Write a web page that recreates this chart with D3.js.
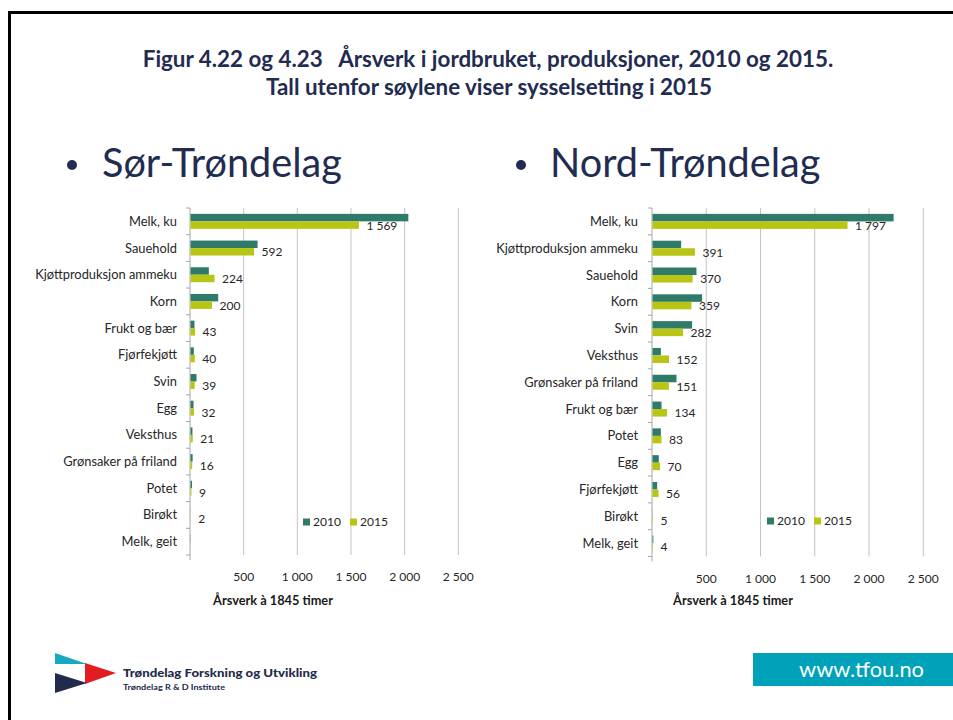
<!DOCTYPE html>
<html>
<head>
<meta charset="utf-8">
<script src="https://cdn.jsdelivr.net/npm/d3@7"></script>
<style>
html,body{margin:0;padding:0;background:#fff;}
svg{display:block;}
</style>
</head>
<body>
<svg id="chart" width="953" height="720"></svg>
<script>
// ---------- DATA ----------
const titleLines = ["Figur 4.22 og 4.23   Årsverk i jordbruket, produksjoner, 2010 og 2015.",
                    "Tall utenfor søylene viser sysselsetting i 2015"];
const headings = ["Sør-Trøndelag", "Nord-Trøndelag"];
const seriesNames = ["2010", "2015"];
const xTicks = [500, 1000, 1500, 2000, 2500];
const axisTitle = "Årsverk à 1845 timer";

const catsSor = ["Melk, ku","Sauehold","Kjøttproduksjon ammeku","Korn","Frukt og bær","Fjørfekjøtt","Svin","Egg","Veksthus","Grønsaker på friland","Potet","Birøkt","Melk, geit"];
const sor2010 = [2030, 625, 171, 258, 37, 31, 56, 28, 18, 20, 14, 1, 2];
const sor2015 = [1569, 592, 224, 200, 43, 40, 39, 32, 21, 16, 9, 2, 1];
const sorLabels = ["1 569","592","224","200","43","40","39","32","21","16","9","2",""];

const catsNord = ["Melk, ku","Kjøttproduksjon ammeku","Sauehold","Korn","Svin","Veksthus","Grønsaker på friland","Frukt og bær","Potet","Egg","Fjørfekjøtt","Birøkt","Melk, geit"];
const nord2010 = [2222, 264, 405, 457, 365, 77, 221, 83, 77, 58, 43, 1, 8];
const nord2015 = [1797, 391, 370, 359, 282, 152, 151, 134, 83, 70, 56, 5, 4];
const nordLabels = ["1 797","391","370","359","282","152","151","134","83","70","56","5","4"];

// ---------- STYLE ----------
const C2010 = "#2f7a69", C2015 = "#b8c514";
const NAVY = "#222b50";
const FONT = "Lato, 'Open Sans', sans-serif";
const svg = d3.select("#chart");
const loc = d3.formatLocale({decimal: ",", thousands: "\u00a0", grouping: [3], currency: ["", ""]});
const fmt = loc.format(",d");

function fitSize(text, weight, target) {
  const t = svg.append("text").attr("font-family", FONT).attr("font-weight", weight)
    .attr("font-size", 100).text(text);
  const w = t.node().getComputedTextLength();
  t.remove();
  return 100 * target / w;
}

// frame
svg.append("rect").attr("x", 9.5).attr("y", 12.5).attr("width", 1000).attr("height", 800)
  .attr("fill", "none").attr("stroke", "#000").attr("stroke-width", 3);

// title
const tSize = fitSize(titleLines[0], "bold", 680);
svg.append("text").attr("x", 488).attr("y", 67).attr("text-anchor", "middle")
  .attr("font-family", FONT).attr("font-weight", "bold").attr("font-size", tSize)
  .attr("fill", NAVY).attr("xml:space", "preserve").style("white-space", "pre").text(titleLines[0]);
svg.append("text").attr("x", 489).attr("y", 95).attr("text-anchor", "middle")
  .attr("font-family", FONT).attr("font-weight", "bold").attr("font-size", tSize)
  .attr("fill", NAVY).text(titleLines[1]);

// headings
const hSize = fitSize(headings[0], "normal", 240);
[[72, 102, headings[0]], [521, 550, headings[1]]].forEach(([bx, tx, txt]) => {
  svg.append("circle").attr("cx", bx).attr("cy", 165).attr("r", 5).attr("fill", NAVY);
  svg.append("text").attr("x", tx).attr("y", 177).attr("font-family", FONT)
    .attr("font-size", hSize).attr("fill", NAVY).text(txt);
});

const catSize = fitSize("Kjøttproduksjon ammeku", "normal", 142);
const numSize = fitSize("1 000", "normal", 31);
const axTitleSize = fitSize(axisTitle, "bold", 120);

function drawChart(cfg) {
  const g = svg.append("g");
  const x = d3.scaleLinear().domain([0, 2500]).range([cfg.x0, cfg.x1]);
  const y = d3.scaleBand().domain(cfg.cats).range([cfg.y0, cfg.y1]).paddingInner(0.44).paddingOuter(0.22);
  const step = y.step();
  const bh = y.bandwidth() / 2;

  // gridlines
  g.selectAll(".grid").data(xTicks).join("line")
    .attr("x1", d => x(d)).attr("x2", d => x(d)).attr("y1", cfg.y0).attr("y2", cfg.y1)
    .attr("stroke", "#c4c4c4").attr("stroke-width", 1);
  // category axis
  g.append("line").attr("x1", x(0)).attr("x2", x(0)).attr("y1", cfg.y0).attr("y2", cfg.y1 + 5)
    .attr("stroke", "#a6a6a6").attr("stroke-width", 1);
  d3.range(cfg.cats.length + 1).forEach(i => {
    const yy = cfg.y0 + i * step;
    g.append("line").attr("x1", x(0) - 4).attr("x2", x(0)).attr("y1", yy).attr("y2", yy)
      .attr("stroke", "#a6a6a6").attr("stroke-width", 1);
  });

  const rows = cfg.cats.map((c, i) => ({c, a: cfg.v10[i], b: cfg.v15[i], lab: cfg.labels[i]}));
  g.selectAll(".b10").data(rows).join("rect")
    .attr("x", x(0) + 0.5).attr("y", d => y(d.c)).attr("height", bh)
    .attr("width", d => x(d.a) - x(0)).attr("fill", C2010);
  g.selectAll(".b15").data(rows).join("rect")
    .attr("x", x(0) + 0.5).attr("y", d => y(d.c) + bh).attr("height", bh)
    .attr("width", d => x(d.b) - x(0)).attr("fill", C2015);

  // value labels
  g.selectAll(".lab").data(rows.filter(d => d.lab)).join("text")
    .attr("x", d => x(d.b) + 8).attr("y", d => y(d.c) + bh * 1.5)
    .attr("dy", "0.38em").attr("font-family", FONT).attr("font-size", numSize)
    .attr("fill", "#262626").attr("xml:space", "preserve").text(d => d.lab);

  // category labels
  g.selectAll(".cat").data(rows).join("text")
    .attr("x", cfg.catX).attr("y", d => y(d.c) + y.bandwidth() / 2)
    .attr("dy", "0.35em").attr("text-anchor", "end").attr("font-family", FONT)
    .attr("font-size", catSize).attr("fill", "#262626").text(d => d.c);

  // x tick labels
  g.selectAll(".tick").data(xTicks).join("text")
    .attr("x", d => x(d)).attr("y", cfg.y1 + 26).attr("text-anchor", "middle")
    .attr("font-family", FONT).attr("font-size", numSize).attr("fill", "#262626")
    .text(d => fmt(d));

  g.append("text").attr("x", cfg.titleX).attr("y", 605).attr("text-anchor", "middle")
    .attr("font-family", FONT).attr("font-weight", "bold").attr("font-size", axTitleSize)
    .attr("fill", "#1a1a1a").text(axisTitle);

  // legend
  [[cfg.legX, C2010, seriesNames[0]], [cfg.legX + 47, C2015, seriesNames[1]]].forEach(([lx, col, nm]) => {
    g.append("rect").attr("x", lx).attr("y", cfg.legY - 3.5).attr("width", 7).attr("height", 7).attr("fill", col);
    g.append("text").attr("x", lx + 10).attr("y", cfg.legY).attr("dy", "0.36em")
      .attr("font-family", FONT).attr("font-size", numSize).attr("fill", "#262626").text(nm);
  });
}

drawChart({cats: catsSor, v10: sor2010, v15: sor2015, labels: sorLabels,
  x0: 190, x1: 458.3, y0: 208, y1: 555, catX: 177, titleX: 273, legX: 303, legY: 522});
drawChart({cats: catsNord, v10: nord2010, v15: nord2015, labels: nordLabels,
  x0: 652, x1: 923.3, y0: 208, y1: 556.5, catX: 638, titleX: 733, legX: 767, legY: 521});

// footer logo
const logo = svg.append("g");
logo.append("polygon").attr("points", "55,653 87,664 55,664").attr("fill", "#17a9c1");
logo.append("polygon").attr("points", "85,663 116,673 85,684").attr("fill", "#e31b23");
logo.append("polygon").attr("points", "55,673 87,683 55,693").attr("fill", "#222b4c");
logo.append("text").attr("x", 123).attr("y", 677).attr("font-family", FONT).attr("font-weight", "900")
  .attr("font-size", 11).attr("fill", "#222b4c").attr("textLength", 194).attr("lengthAdjust", "spacingAndGlyphs")
  .text("Trøndelag Forskning og Utvikling");
logo.append("text").attr("x", 123).attr("y", 690).attr("font-family", FONT).attr("font-weight", "bold")
  .attr("font-size", 6.5).attr("fill", "#222b4c").attr("textLength", 102).attr("lengthAdjust", "spacingAndGlyphs")
  .text("Trøndelag R & D Institute");

// www box
svg.append("rect").attr("x", 753).attr("y", 653).attr("width", 200).attr("height", 33).attr("fill", "#00a2b9");
const wSize = fitSize("www.tfou.no", "normal", 125);
svg.append("text").attr("x", 799).attr("y", 677).attr("font-family", FONT).attr("font-size", wSize)
  .attr("fill", "#fff").text("www.tfou.no");
</script>
</body>
</html>
